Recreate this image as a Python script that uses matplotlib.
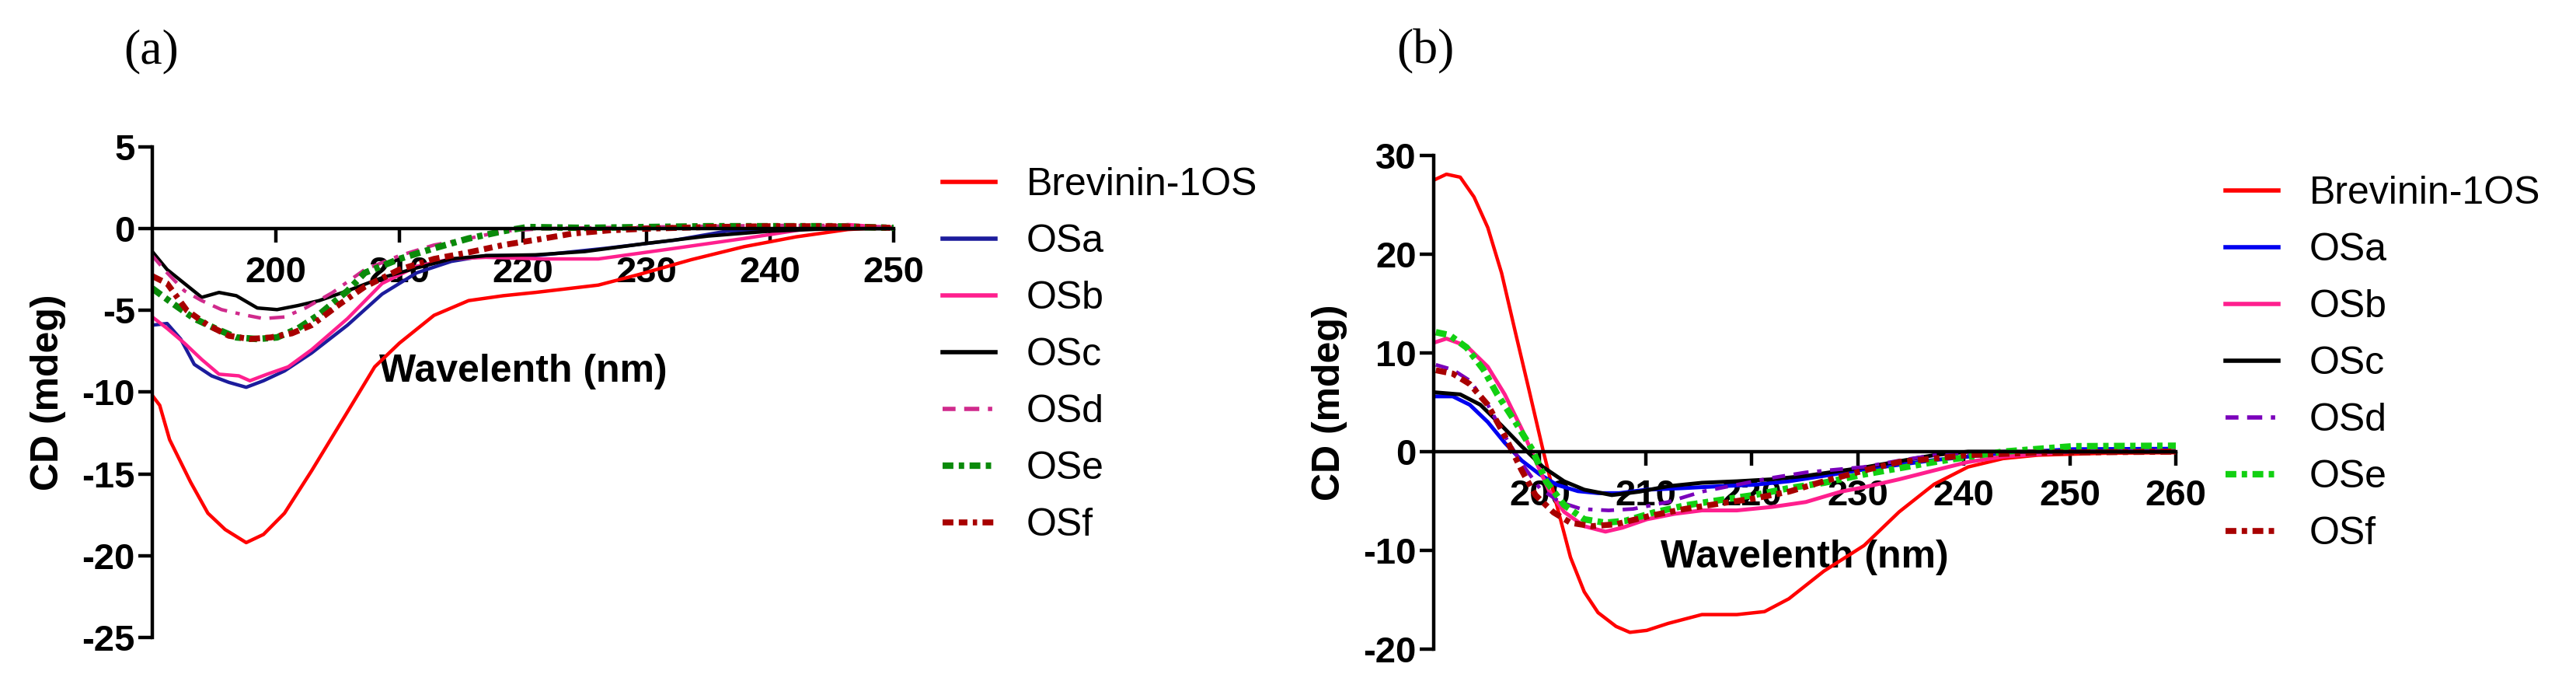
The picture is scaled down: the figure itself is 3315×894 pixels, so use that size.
"""CD spectra of Brevinin-1OS and its analogues, two buffer conditions (a) and (b)."""
import matplotlib
matplotlib.use("Agg")
import matplotlib.pyplot as plt

plt.rcParams["font.family"] = ["Liberation Sans", "DejaVu Sans"]
plt.rcParams["lines.scale_dashes"] = False
plt.rcParams["axes.unicode_minus"] = False

labels = ["Brevinin-1OS", "OSa", "OSb", "OSc", "OSd", "OSe", "OSf"]

# ---- panel (a) ----
a_brev_x = [190, 190.6, 191.4, 193.1, 194.5, 195.9, 197.6, 199.0, 200.7, 202.9, 205.8, 208.0,
            210.0, 212.8, 215.6, 218.4, 221.0, 226.1, 229.4, 233.6, 237.9, 242.1, 246.3, 250]
a_brev_y = [-10.2, -10.8, -12.9, -15.5, -17.4, -18.4, -19.2, -18.7, -17.4, -14.8, -11.2, -8.45,
            -7.0, -5.3, -4.4, -4.1, -3.9, -3.45, -2.8, -1.9, -1.1, -0.5, -0.05, 0.1]
a_osa_x = [190, 191.2, 192.3, 193.4, 194.8, 196.2, 197.6, 199.0, 200.7, 202.9, 205.8, 208.6,
           211.4, 214.2, 217.0, 221.0, 226.7, 232.3, 236.5, 240.7, 245, 250]
a_osa_y = [-5.9, -5.8, -6.75, -8.3, -9.0, -9.4, -9.7, -9.3, -8.7, -7.6, -5.9, -4.0,
           -2.7, -2.0, -1.65, -1.65, -1.2, -0.7, -0.15, -0.05, 0.0, 0.05]
a_osb_x = [190, 191.2, 192.6, 194.0, 195.4, 197.0, 197.9, 199.3, 201.0, 202.9, 205.8, 208.6,
           211.4, 214.2, 217.0, 221.7, 226.1, 232.3, 237.9, 243.5, 246.3, 250]
a_osb_y = [-5.4, -6.1, -7.0, -8.0, -8.9, -9.0, -9.3, -8.9, -8.45, -7.4, -5.5, -3.35,
           -2.3, -1.85, -1.75, -1.85, -1.85, -1.2, -0.6, 0.05, 0.25, 0.05]
a_osc_x = [190, 191.2, 192.6, 194.0, 195.4, 196.8, 198.5, 200.1, 201.8, 203.5, 205.8, 208.6,
           211.4, 214.2, 217.0, 221, 225, 230, 235, 240, 245, 250]
a_osc_y = [-1.4, -2.5, -3.35, -4.2, -3.9, -4.1, -4.85, -4.95, -4.7, -4.4, -3.8, -3.0,
           -2.4, -1.85, -1.65, -1.6, -1.4, -0.9, -0.45, -0.15, 0.0, 0.0]
a_osd_x = [190, 191.2, 192.6, 194.0, 195.6, 197.3, 199.0, 200.7, 202.4, 204.6, 207.2, 210.0,
           212.8, 215.6, 218.4, 221.7, 225, 230, 235, 240, 245, 250]
a_osd_y = [-1.65, -2.7, -3.8, -4.4, -4.95, -5.25, -5.5, -5.4, -4.85, -3.9, -2.5, -1.65,
           -1.0, -0.6, -0.15, 0.0, 0.05, 0.1, 0.15, 0.2, 0.2, 0.1]
a_ose_x = [190, 191.7, 193.4, 195.1, 196.8, 198.5, 200.1, 201.8, 203.5, 205.8, 207.2, 210.0,
           212.8, 215.6, 218.4, 220.4, 225, 230, 235, 240, 245, 250]
a_ose_y = [-3.65, -4.6, -5.5, -6.1, -6.65, -6.75, -6.65, -6.1, -5.25, -3.8, -2.7, -1.85,
           -1.2, -0.6, -0.15, 0.1, 0.05, 0.1, 0.15, 0.15, 0.15, 0.05]
a_osf_x = [190, 191.2, 192.8, 194.5, 196.2, 197.9, 199.6, 201.3, 202.9, 205.2, 207.2, 210.0,
           212.8, 215.6, 218.4, 221.7, 224, 227, 230, 235, 240, 245, 250]
a_osf_y = [-2.9, -3.35, -5.0, -5.9, -6.55, -6.75, -6.65, -6.4, -5.9, -4.6, -3.55, -2.5,
           -1.85, -1.45, -1.0, -0.6, -0.3, -0.1, 0.0, 0.1, 0.15, 0.15, 0.05]

# ---- panel (b) ----
b_brev_x = [190.2, 191.2, 192.5, 193.8, 195.1, 196.4, 197.7, 199.0, 200.3, 201.6, 202.9, 204.2,
            205.5, 207.2, 208.5, 210.1, 212.1, 215.3, 218.6, 221.2, 223.5, 226.8, 230.6, 233.9,
            237.2, 240.4, 243.7, 247.0, 253.5, 260]
b_brev_y = [27.6, 28.1, 27.8, 25.8, 22.7, 18.1, 12.1, 6.2, 0.2, -5.4, -10.7, -14.2,
            -16.3, -17.7, -18.3, -18.1, -17.4, -16.5, -16.5, -16.2, -14.9, -12.1, -9.5, -6.1,
            -3.3, -1.55, -0.7, -0.35, -0.15, -0.1]
b_osa_x = [190.2, 191.8, 193.4, 195.1, 196.7, 198.3, 200.0, 201.6, 203.6, 205.5, 207.5, 210.1,
           213.4, 217.0, 220.2, 223.5, 226.8, 230.6, 237.2, 243.7, 250.3, 260]
b_osa_y = [5.6, 5.6, 4.75, 3.0, 0.9, -0.9, -2.3, -3.35, -4.0, -4.2, -4.2, -3.85,
           -3.7, -3.5, -3.35, -3.0, -2.45, -1.8, -0.85, -0.15, 0.25, 0.3]
b_osb_x = [190.2, 191.2, 193.1, 195.1, 196.7, 198.3, 199.6, 200.9, 202.3, 204.2, 206.2, 207.8,
           210.1, 212.7, 215.3, 218.6, 221.9, 225.1, 228.4, 230.6, 233.9, 237.2, 240.4, 243.7,
           250.3, 260]
b_osb_y = [11.1, 11.45, 10.7, 8.6, 5.8, 2.3, -0.9, -4.0, -6.1, -7.55, -8.1, -7.7,
           -6.85, -6.3, -5.95, -5.95, -5.6, -5.1, -4.05, -3.6, -2.8, -1.9, -1.05, -0.5,
           0.0, 0.1]
b_osc_x = [190.2, 192.5, 194.4, 196.4, 198.3, 200.3, 202.3, 204.2, 206.8, 209.4, 212.1, 215.3,
           218.6, 221.9, 225.1, 230.6, 237.2, 240.4, 250, 260]
b_osc_y = [6.0, 5.8, 4.75, 2.65, 0.55, -1.55, -3.0, -3.85, -4.4, -4.05, -3.5, -3.15,
           -3.0, -2.8, -2.45, -1.6, -0.35, 0.0, 0.0, 0.0]
b_osd_x = [190.2, 191.8, 193.4, 195.1, 196.7, 198.3, 200.0, 201.9, 203.9, 206.5, 208.8, 212.1,
           215.3, 218.6, 221.9, 225.1, 230.6, 233.9, 237.2, 243.7, 260]
b_osd_y = [8.8, 8.3, 7.2, 4.75, 1.6, -1.2, -3.7, -5.1, -5.8, -5.95, -5.8, -5.1,
           -4.05, -3.35, -2.65, -2.1, -1.55, -0.9, -0.35, 0.0, 0.1]
b_ose_x = [190.2, 191.5, 193.1, 194.7, 196.0, 197.7, 199.3, 200.6, 202.3, 204.2, 206.2, 208.1,
           210.8, 213.7, 217.0, 220.2, 223.5, 226.8, 230.6, 237.2, 243.7, 250.3, 260]
b_ose_y = [12.1, 11.8, 10.55, 8.3, 5.8, 3.0, 0.2, -3.0, -5.4, -6.85, -7.2, -7.0,
           -6.15, -5.45, -4.9, -4.4, -3.7, -3.15, -2.3, -1.05, 0.0, 0.55, 0.6]
b_osf_x = [190.2, 191.8, 193.4, 195.1, 196.7, 198.3, 199.6, 201.3, 202.9, 204.9, 207.2, 210.4,
           213.7, 217.0, 220.2, 223.5, 226.8, 230.6, 233.9, 240.4, 247.0, 260]
b_osf_y = [8.25, 7.9, 6.85, 4.75, 1.6, -1.9, -4.4, -6.15, -7.2, -7.55, -7.35, -6.5,
           -5.8, -5.25, -4.75, -4.05, -3.0, -1.9, -1.05, -0.35, -0.1, 0.0]

# line styles (colour, width in pt, dash pattern in pt)
solid = "-"
style_a = [
    ("#ff0000", 3.2, solid),
    ("#1c1c9c", 3.2, solid),
    ("#ff1f8e", 3.2, solid),
    ("#000000", 3.2, solid),
    ("#d02a8c", 3.2, (0, (12, 8, 14, 8, 4, 8))),
    ("#0a8a0a", 6.0, (0, (10, 5, 5, 5))),
    ("#a80000", 5.5, (0, (10, 5, 8, 5, 4, 5))),
]
style_b = [
    ("#ff0000", 3.2, solid),
    ("#0000f0", 3.6, solid),
    ("#ff1f8e", 3.6, solid),
    ("#000000", 3.6, solid),
    ("#7a00bb", 3.4, (0, (12, 8, 14, 8, 4, 8))),
    ("#12d012", 6.0, (0, (10, 5, 5, 5))),
    ("#a80000", 5.5, (0, (10, 5, 5, 5))),
]

series_a = [(a_brev_x, a_brev_y), (a_osa_x, a_osa_y), (a_osb_x, a_osb_y), (a_osc_x, a_osc_y),
            (a_osd_x, a_osd_y), (a_ose_x, a_ose_y), (a_osf_x, a_osf_y)]
series_b = [(b_brev_x, b_brev_y), (b_osa_x, b_osa_y), (b_osb_x, b_osb_y), (b_osc_x, b_osc_y),
            (b_osd_x, b_osd_y), (b_ose_x, b_ose_y), (b_osf_x, b_osf_y)]


def draw_panel(ax, series, styles, xlim, ylim, xticks, yticks, xlabel_y, legend_xy):
    for (xs, ys), (color, lw, ls), name in zip(series, styles, labels):
        ax.plot(xs, ys, color=color, linewidth=lw, linestyle=ls, label=name)

    ax.set_xlim(*xlim)
    ax.set_ylim(*ylim)
    ax.set_xticks(xticks)
    ax.set_yticks(yticks)
    ax.spines["top"].set_visible(False)
    ax.spines["right"].set_visible(False)
    ax.spines["bottom"].set_position(("data", 0))
    for side in ("left", "bottom"):
        ax.spines[side].set_linewidth(3.2)
    ax.set_axisbelow(True)
    ax.tick_params(axis="both", direction="out", width=3.2, length=13, labelsize=34)
    ax.tick_params(axis="x", pad=12)
    ax.tick_params(axis="y", pad=3)
    plt.setp(ax.get_xticklabels() + ax.get_yticklabels(), fontweight="bold")

    ax.set_ylabel("CD (mdeg)", fontsize=36, fontweight="bold")
    ax.yaxis.set_label_coords(-0.116, 0.5)
    ax.set_xlabel("Wavelenth (nm)", fontsize=36, fontweight="bold")
    ax.xaxis.set_label_coords(0.5, xlabel_y)

    leg = ax.legend(loc="upper left", bbox_to_anchor=legend_xy,
                    bbox_transform=ax.figure.transFigure, frameon=False,
                    fontsize=36, handlelength=1.36, handletextpad=0.8,
                    labelspacing=0.54, borderpad=0, borderaxespad=0)
    for line in leg.get_lines():
        line.set_linewidth(max(line.get_linewidth(), 4.0))


fig = plt.figure(figsize=(33.16, 8.94), dpi=100)
ax_a = fig.add_axes([0.0591, 0.0828, 0.2877, 0.7058])
ax_b = fig.add_axes([0.5564, 0.0660, 0.2880, 0.7103])

draw_panel(ax_a, series_a, style_a, (190, 250), (-25, 5), [200, 210, 220, 230, 240, 250],
           [-25, -20, -15, -10, -5, 0, 5], 0.578, (1213 / 3316, 1 - 215 / 894))
draw_panel(ax_b, series_b, style_b, (190, 260), (-20, 30), [200, 210, 220, 230, 240, 250, 260],
           [-20, -10, 0, 10, 20, 30], 0.222, (2864 / 3316, 1 - 226 / 894))

fig.text(195 / 3316, 1 - 66 / 894, "(a)", family=["Liberation Serif", "DejaVu Serif"],
         fontsize=46, ha="center", va="center")
fig.text(1834 / 3316, 1 - 66 / 894, "(b)", family=["Liberation Serif", "DejaVu Serif"],
         fontsize=46, ha="center", va="center")

fig.savefig("out.png", dpi=100)
